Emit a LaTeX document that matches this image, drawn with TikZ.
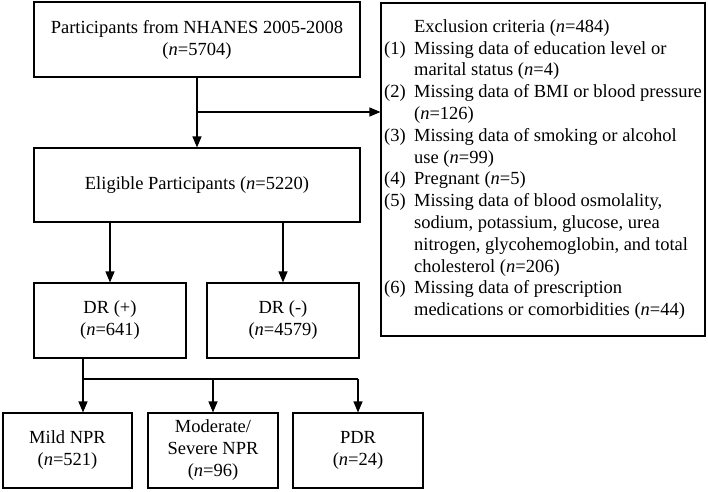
\documentclass[tikz,border=0pt]{standalone}
\usepackage{fontspec}
\setmainfont{Liberation Serif}
\usetikzlibrary{arrows.meta}
\newcommand{\nn}{\textit{n}}
\newcommand{\lbl}[1]{\makebox[30pt][l]{#1}}
\newcommand{\ind}{\hspace*{30pt}}

\begin{document}
\begin{tikzpicture}[x=1pt,y=-1pt,
  box/.style={draw,line width=1.1pt,inner sep=0pt,align=center,font=\fontsize{18.5}{22}\selectfont},
  arr/.style={line width=1.1pt,-{Triangle[length=11pt,width=9pt]}},
  ln/.style={line width=1.1pt}]
\useasboundingbox (0,0) rectangle (708,491);
\node[box,minimum width=326pt,minimum height=75pt] (nhanes) at (197,39.5) {Participants from NHANES 2005-2008\\(\nn=5704)};
\node[box,minimum width=326pt,minimum height=74pt] (elig) at (197,185) {Eligible Participants (\nn=5220)};
\node[box,minimum width=324pt,minimum height=333pt,align=left,font=\fontsize{18.5}{21.8}\selectfont] (excl) at (543,169.5) {%
\ind Exclusion criteria (\nn=484)\\
\lbl{(1)}Missing data of education level or\\
\ind marital status (\nn=4)\\
\lbl{(2)}Missing data of BMI or blood pressure\\
\ind (\nn=126)\\
\lbl{(3)}Missing data of smoking or alcohol\\
\ind use (\nn=99)\\
\lbl{(4)}Pregnant (\nn=5)\\
\lbl{(5)}Missing data of blood osmolality,\\
\ind sodium, potassium, glucose, urea\\
\ind nitrogen, glycohemoglobin, and total\\
\ind cholesterol (\nn=206)\\
\lbl{(6)}Missing data of prescription\\
\ind medications or comorbidities (\nn=44)};
\node[box,minimum width=152pt,minimum height=75pt] (drpos) at (110,320.5) {DR (+)\\(\nn=641)};
\node[box,minimum width=152pt,minimum height=75pt] (drneg) at (283,320.5) {DR (-)\\(\nn=4579)};
\node[box,minimum width=129pt,minimum height=75pt] (mild) at (67.5,450.5) {Mild NPR\\(\nn=521)};
\node[box,minimum width=130pt,minimum height=75pt] (mod) at (213,450.5) {Moderate/\\Severe NPR\\(\nn=96)};
\node[box,minimum width=130pt,minimum height=75pt] (pdr) at (358,450.5) {PDR\\(\nn=24)};
\coordinate (br) at (197,112);
\coordinate (split) at (83,379);
\draw[arr] (nhanes) -- (elig);
\draw[arr] (br) -- (br -| excl.west);
\draw[arr] (drpos.north |- elig.south) -- (drpos.north);
\draw[arr] (drneg.north |- elig.south) -- (drneg.north);
\draw[ln] (split |- drpos.south) -- (split) -- (pdr.north |- split);
\draw[arr] (split) -- (split |- mild.north);
\draw[arr] (mod.north |- split) -- (mod.north);
\draw[arr] (pdr.north |- split) -- (pdr.north);
\end{tikzpicture}
\end{document}
